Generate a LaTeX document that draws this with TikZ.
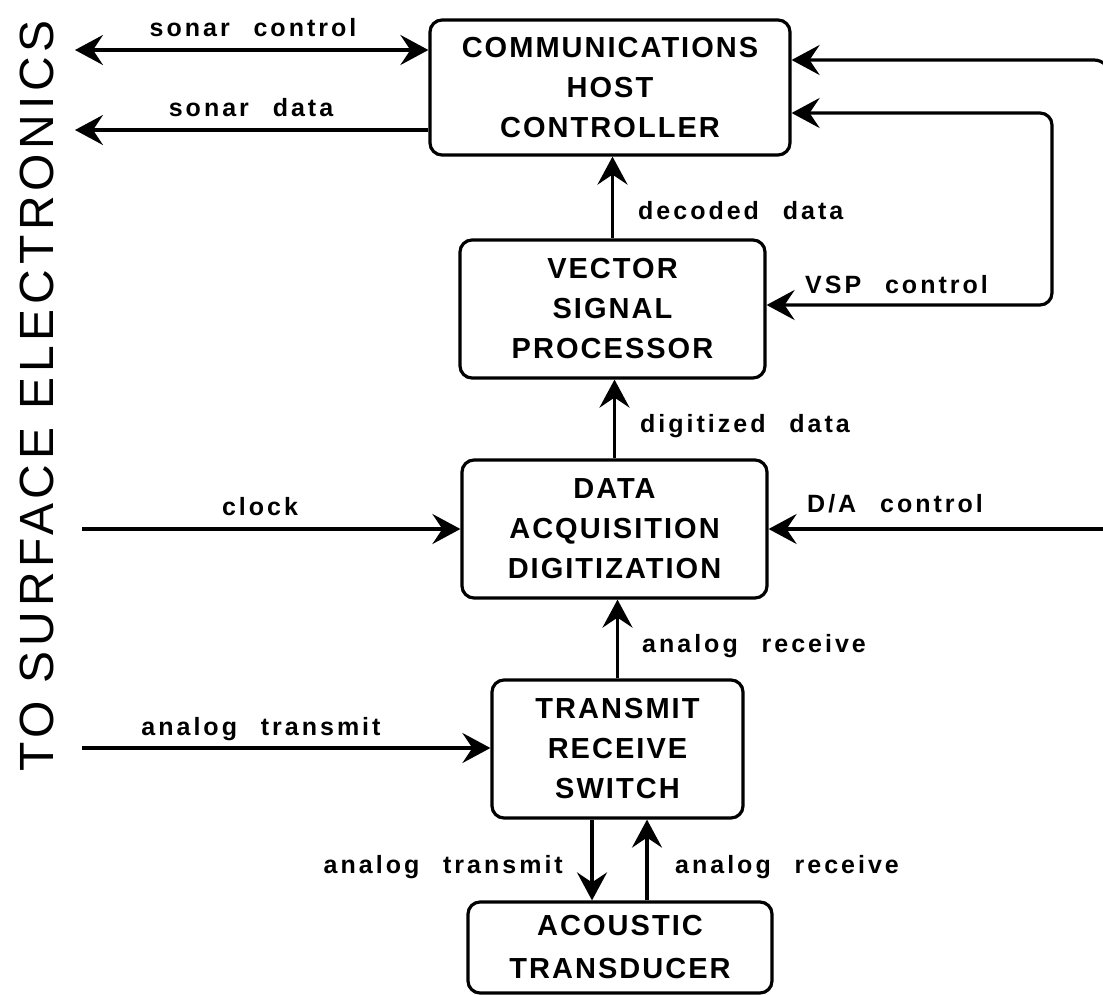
\documentclass[tikz,border=0pt]{standalone}
\usepackage{fontspec}
\setmainfont{Liberation Sans}
\newfontfamily\boxfont{Liberation Sans}[LetterSpace=7]
\newfontfamily\lblfont{Liberation Sans}[LetterSpace=12,WordSpace=2.4]
\newfontfamily\sidefont{Liberation Sans}[LetterSpace=10]
\usetikzlibrary{arrows.meta,calc}
\begin{document}
\begin{tikzpicture}[x=1pt,y=-1pt,
 blk/.style={draw, line width=3.2pt, rounded corners=12pt, align=center,
   font=\boxfont\bfseries\fontsize{29}{40}\selectfont, inner sep=0pt},
 lbl/.style={font=\lblfont\bfseries\fontsize{25}{28}\selectfont, inner sep=0pt},
 conn/.style={line width=3.2pt},
 tip/.style={-{Stealth[length=28pt,width=30pt,inset=10pt]}},
 tipboth/.style={{Stealth[length=28pt,width=30pt,inset=10pt]}-{Stealth[length=28pt,width=30pt,inset=10pt]}},
]
\useasboundingbox (0,0) rectangle (1103,995);
\clip (0,0) rectangle (1103,995);

% boxes
\node[blk, minimum width=360pt, minimum height=135pt] (comm) at (610,87.5) {COMMUNICATIONS\\HOST\\CONTROLLER};
\node[blk, minimum width=305pt, minimum height=138pt] (vsp) at (612.5,309) {VECTOR\\SIGNAL\\PROCESSOR};
\node[blk, minimum width=305pt, minimum height=138pt] (daq) at (614.5,529) {DATA\\ACQUISITION\\DIGITIZATION};
\node[blk, minimum width=251pt, minimum height=138pt] (trs) at (617.5,749) {TRANSMIT\\RECEIVE\\SWITCH};
\node[blk, minimum width=304pt, minimum height=91pt, font=\boxfont\bfseries\fontsize{29}{43}\selectfont] (ac) at (620,947.5) {ACOUSTIC\\TRANSDUCER};

% side text
\node[rotate=90, inner sep=0pt, font=\sidefont\fontsize{48}{50}\selectfont] (side) at (37,396) {TO SURFACE ELECTRONICS};

% free ends
\coordinate (scL) at (75,50);
\coordinate (sdL) at (75,130);
\coordinate (ckL) at (82,529);
\coordinate (atL) at (82,748);
\coordinate (rtop) at (1110,60);
\coordinate (rbus) at (1110,300);
\coordinate (rda) at (1110,529);
\coordinate (lpT) at (1052,113);
\coordinate (lpB) at (1052,305);
\coordinate (dnx) at (592,0);
\coordinate (upx) at (647,0);

% left connectors
\draw[conn,tipboth] (scL) -- (scL -| comm.west);
\draw[conn,tip] (sdL -| comm.west) -- (sdL);
\draw[conn,tip] (ckL) -- (ckL -| daq.west);
\draw[conn,tip] (atL) -- (atL -| trs.west);

% right connectors
\draw[conn,tip,rounded corners=16pt] (rbus) -- (rtop) -- (rtop -| comm.east);
\draw[conn,tip] (rda) -- (rda -| daq.east);
\draw[conn,tipboth,rounded corners=12pt] (lpT -| comm.east) -- (lpT) -- (lpB) -- (lpB -| vsp.east);

% vertical connectors
\draw[conn,tip] (vsp.north) -- (vsp.north |- comm.south);
\draw[conn,tip] (daq.north) -- (daq.north |- vsp.south);
\draw[conn,tip] (trs.north) -- (trs.north |- daq.south);
\draw[conn,tip] (dnx |- trs.south) -- (dnx |- ac.north);
\draw[conn,tip] (upx |- ac.north) -- (upx |- trs.south);

% labels
\node[lbl, anchor=base] (l1) at (253,37) {sonar control};
\node[lbl, anchor=base] (l2) at (251,117) {sonar data};
\node[lbl, anchor=base west] (l3) at (638,220) {decoded data};
\node[lbl, anchor=base west] (l4) at (805,293) {VSP control};
\node[lbl, anchor=base west] (l5) at (640,432) {digitized data};
\node[lbl, anchor=base west] (l6) at (807,512) {D/A control};
\node[lbl, anchor=base] (l7) at (260,515) {clock};
\node[lbl, anchor=base] (l8) at (261,735) {analog transmit};
\node[lbl, anchor=base west] (l9) at (642,652) {analog receive};
\node[lbl, anchor=base east] (l10) at (563,873) {analog transmit};
\node[lbl, anchor=base west] (l11) at (675,873) {analog receive};
\end{tikzpicture}
\end{document}
